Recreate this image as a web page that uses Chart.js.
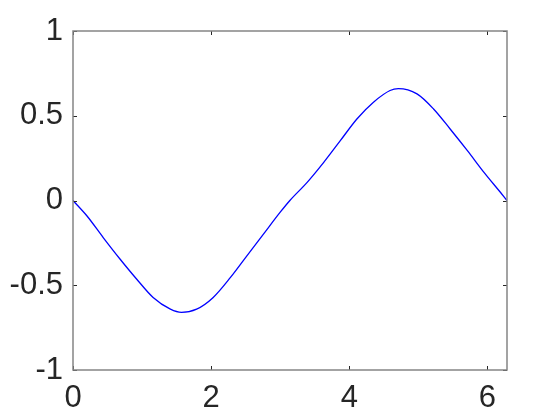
<!DOCTYPE html>
<html>
<head>
<meta charset="utf-8">
<script src="https://cdn.jsdelivr.net/npm/chart.js@4.4.1/dist/chart.umd.min.js"></script>
<style>
  html, body { margin: 0; padding: 0; background: #fff; }
  #wrap { width: 560px; height: 420px; }
</style>
</head>
<body>
<div id="wrap"><canvas id="chart_curve" width="560" height="420"></canvas></div>
<script>
// values
const xValues = [0, 0.2, 0.44, 0.68, 0.92, 1.16, 1.41, 1.57, 1.79, 2.03, 2.28, 2.52, 2.76, 3.0, 3.14,
                 3.39, 3.63, 3.87, 4.11, 4.35, 4.59, 4.71, 4.98, 5.22, 5.46, 5.71, 5.95, 6.19, 6.283];
const yValues = [0, -0.09, -0.22, -0.345, -0.463, -0.572, -0.641, -0.66, -0.641, -0.572, -0.454, -0.325, -0.197, -0.069, 0,
                 0.107, 0.225, 0.353, 0.481, 0.58, 0.649, 0.66, 0.629, 0.54, 0.422, 0.294, 0.166, 0.047, 0];
const xTicks = [0, 2, 4, 6];
const yTicks = [-1, -0.5, 0, 0.5, 1];
const xMax = 6.2832;

const points = xValues.map(function(x, i) { return { x: x, y: yValues[i] }; });

// box on all four sides + ticks pointing inward (matlab style)
const boxPlugin = {
    id: 'boxTicks',
    afterDraw: function(chart) {
        const ctx = chart.ctx;
        const a = chart.chartArea;
        const sx = chart.scales.x, sy = chart.scales.y;
        const len = 4;
        ctx.save();
        ctx.strokeStyle = '#262626';
        ctx.lineWidth = 1;
        xTicks.forEach(function(t) {
            const px = Math.round(sx.getPixelForValue(t)) + 0.5;
            ctx.beginPath();
            ctx.moveTo(px, a.bottom); ctx.lineTo(px, a.bottom - len);
            ctx.moveTo(px, a.top); ctx.lineTo(px, a.top + len);
            ctx.stroke();
        });
        yTicks.forEach(function(t) {
            const py = Math.round(sy.getPixelForValue(t)) + 0.5;
            ctx.beginPath();
            ctx.moveTo(a.left, py); ctx.lineTo(a.left + len, py);
            ctx.moveTo(a.right, py); ctx.lineTo(a.right - len, py);
            ctx.stroke();
        });
        ctx.strokeStyle = '#858585';
        ctx.lineWidth = 1.5;
        ctx.strokeRect(a.left, a.top, a.right - a.left, a.bottom - a.top);
        ctx.restore();
    }
};

const ctx_curve = document.getElementById('chart_curve');

new Chart(ctx_curve, {
    type: 'line',
    data: {
        datasets: [{
            data: points,
            borderColor: '#0000ff',
            borderWidth: 1.3,
            pointRadius: 0,
            fill: false,
            cubicInterpolationMode: 'monotone'
        }]
    },
    options: {
        responsive: false,
        animation: false,
        layout: { padding: { top: 31, right: 53, bottom: 0, left: 0 } },
        plugins: {
            legend: { display: false },
            tooltip: { enabled: false }
        },
        scales: {
            x: {
                type: 'linear',
                min: 0,
                max: xMax,
                afterBuildTicks: function(scale) {
                    scale.ticks = xTicks.map(function(v) { return { value: v }; });
                },
                afterFit: function(scale) { scale.height = 50; },
                grid: { display: false, drawTicks: false },
                border: { display: false },
                ticks: {
                    padding: 10,
                    color: '#262626',
                    font: { family: 'Liberation Sans, Arial, sans-serif', size: 31 },
                    callback: function(v) { return v; }
                }
            },
            y: {
                min: -1,
                max: 1,
                afterBuildTicks: function(scale) {
                    scale.ticks = yTicks.map(function(v) { return { value: v }; });
                },
                afterFit: function(scale) { scale.width = 73; },
                grid: { display: false, drawTicks: false },
                border: { display: false },
                ticks: {
                    padding: 10,
                    color: '#262626',
                    font: { family: 'Liberation Sans, Arial, sans-serif', size: 31 },
                    callback: function(v) { return v; }
                }
            }
        }
    },
    plugins: [boxPlugin]
});
</script>
</body>
</html>
